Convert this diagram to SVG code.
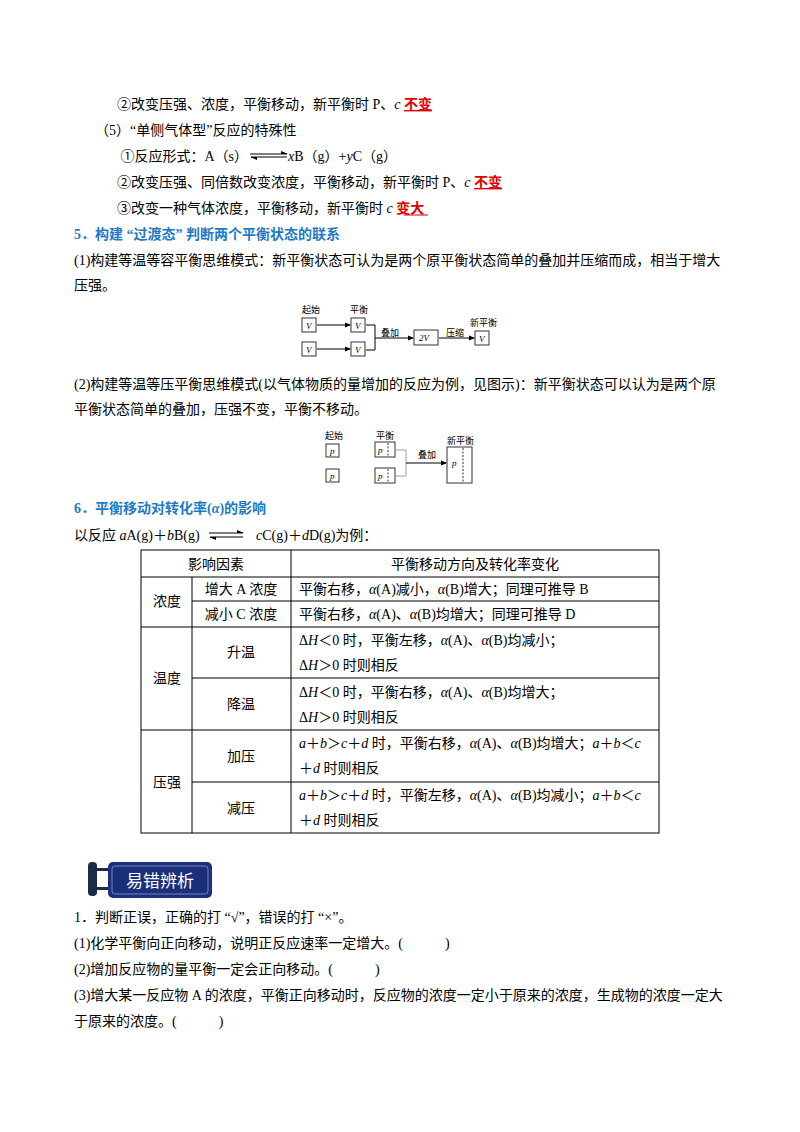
<svg xmlns="http://www.w3.org/2000/svg" width="800" height="1132" viewBox="0 0 800 1132">
<defs>
<marker id="ah" markerWidth="6" markerHeight="6" refX="5" refY="3" orient="auto"><path d="M0,0.5 L6,3 L0,5.5 Z" fill="#000"/></marker>
<marker id="hp" markerWidth="7" markerHeight="6" refX="6" refY="5" orient="auto"><path d="M0,2 L7,5 L0,5 Z" fill="#000"/></marker>
</defs>
<style>
text{font-family:"Liberation Serif","Noto Sans CJK SC",serif;font-size:14px;fill:#000}
.b{fill:#1F7AC4;font-weight:bold;font-family:"Liberation Serif","Noto Sans CJK SC",sans-serif}
.r{fill:#E00000;font-weight:bold;text-decoration:underline}
.s{font-size:9px}
.i{font-style:italic}
.bx{fill:#fff;stroke:#333;stroke-width:1}
.ln{stroke:#000;stroke-width:1;fill:none}
.tl{stroke:#000;stroke-width:1}
.gl{stroke:#888;stroke-width:0.8;fill:none}
</style>
<rect width="800" height="1132" fill="#fff"/>
<text x="117" y="109">②改变压强、浓度，平衡移动，新平衡时 P、<tspan class="i">c</tspan> <tspan class="r">不变</tspan></text>
<text x="95" y="135">（5）“单侧气体型”反应的特殊性</text>
<text x="248" y="161" text-anchor="end">①反应形式：A（s）</text>
<text x="288" y="161"><tspan class="i">x</tspan>B（g）+<tspan class="i">y</tspan>C（g）</text>
<g class="ln"><line x1="250" y1="154" x2="287" y2="154" marker-end="url(#hp)"/><line x1="287" y1="157" x2="251" y2="157" marker-end="url(#hp)"/></g>
<text x="117" y="187">②改变压强、同倍数改变浓度，平衡移动，新平衡时 P、<tspan class="i">c</tspan> <tspan class="r">不变</tspan></text>
<text x="117" y="213">③改变一种气体浓度，平衡移动，新平衡时 <tspan class="i">c</tspan> <tspan class="r" style="text-decoration:none">变大</tspan></text>
<line x1="404" y1="215" x2="428" y2="215" stroke="#E00000"/>
<text x="74" y="239" class="b">5．构建 “过渡态” 判断两个平衡状态的联系</text>
<text x="74" y="265">(1)构建等温等容平衡思维模式：新平衡状态可认为是两个原平衡状态简单的叠加并压缩而成，相当于增大</text>
<text x="74" y="290">压强。</text>
<g id="diag1">
<text x="302" y="313" class="s">起始</text><text x="350" y="313" class="s">平衡</text><text x="470" y="326" class="s">新平衡</text>
<text x="381" y="336" class="s">叠加</text><text x="446" y="336" class="s">压缩</text>
<rect class="bx" x="302" y="318" width="14" height="14"/><text x="306" y="329" class="s i">V</text>
<rect class="bx" x="302" y="342" width="14" height="14"/><text x="306" y="353" class="s i">V</text>
<rect class="bx" x="351" y="318" width="14" height="14"/><text x="355" y="329" class="s i">V</text>
<rect class="bx" x="351" y="342" width="14" height="14"/><text x="355" y="353" class="s i">V</text>
<rect class="bx" x="414" y="330" width="24" height="15"/><text x="419" y="341" class="s i">2V</text>
<rect class="bx" x="475" y="331" width="14" height="14"/><text x="479" y="342" class="s i">V</text>
</g>
<g id="conn1" class="ln">
<line x1="317" y1="325" x2="350" y2="325" marker-end="url(#ah)"/>
<line x1="317" y1="349" x2="350" y2="349" marker-end="url(#ah)"/>
<polyline points="366,325 375,325 375,350 366,350"/>
<line x1="375" y1="338" x2="413" y2="338" marker-end="url(#ah)"/>
<line x1="439" y1="338" x2="474" y2="338" marker-end="url(#ah)"/>
</g>
<text x="74" y="389">(2)构建等温等压平衡思维模式(以气体物质的量增加的反应为例，见图示)：新平衡状态可以认为是两个原</text>
<text x="74" y="414">平衡状态简单的叠加，压强不变，平衡不移动。</text>
<g id="diag2">
<text x="325" y="439" class="s">起始</text><text x="376" y="439" class="s">平衡</text><text x="447" y="444" class="s">新平衡</text>
<text x="418" y="458" class="s">叠加</text>
<rect class="bx" x="326" y="444" width="13" height="13"/><text x="330" y="454" class="s i">p</text>
<rect class="bx" x="326" y="469" width="13" height="13"/><text x="330" y="479" class="s i">p</text>
<rect class="bx" x="375" y="442" width="20" height="15"/><text x="378" y="453" class="s i">p</text>
<rect class="bx" x="375" y="468" width="20" height="15"/><text x="378" y="479" class="s i">p</text>
<line x1="388" y1="443" x2="388" y2="456" stroke="#333" stroke-dasharray="2,1.5"/>
<line x1="388" y1="469" x2="388" y2="482" stroke="#333" stroke-dasharray="2,1.5"/>
<rect class="bx" x="447" y="447" width="25" height="36"/><text x="452" y="466" class="s i">p</text>
<line x1="463" y1="448" x2="463" y2="482" stroke="#333" stroke-dasharray="2,1.5"/>
</g>
<g id="conn2">
<polyline class="gl" points="396,450 406,450 406,476 396,476"/>
<line class="ln" x1="406" y1="463" x2="446" y2="463" marker-end="url(#ah)"/>
</g>
<text x="74" y="513" class="b">6．平衡移动对转化率(<tspan class="i">α</tspan>)的影响</text>
<text x="74" y="540">以反应 <tspan class="i">a</tspan>A(g)＋<tspan class="i">b</tspan>B(g)</text>
<text x="256" y="540"><tspan class="i">c</tspan>C(g)＋<tspan class="i">d</tspan>D(g)为例：</text>
<g class="ln"><line x1="209" y1="533" x2="243" y2="533" marker-end="url(#hp)"/><line x1="243" y1="537" x2="210" y2="537" marker-end="url(#hp)"/></g>
<g id="table">
<rect x="141" y="550" width="518" height="283" fill="none" stroke="#000"/>
<g class="tl">
<line x1="141" y1="577" x2="659" y2="577"/>
<line x1="192" y1="601" x2="659" y2="601"/>
<line x1="141" y1="627" x2="659" y2="627"/>
<line x1="192" y1="678" x2="659" y2="678"/>
<line x1="141" y1="730" x2="659" y2="730"/>
<line x1="192" y1="782" x2="659" y2="782"/>
<line x1="192" y1="577" x2="192" y2="833"/>
<line x1="291" y1="550" x2="291" y2="833"/>
</g>
<text x="216" y="569" text-anchor="middle">影响因素</text>
<text x="475" y="569" text-anchor="middle">平衡移动方向及转化率变化</text>
<text x="167" y="606" text-anchor="middle">浓度</text>
<text x="241" y="594" text-anchor="middle">增大 A 浓度</text>
<text x="241" y="619" text-anchor="middle">减小 C 浓度</text>
<text x="299" y="594">平衡右移，<tspan class="i">α</tspan>(A)减小，<tspan class="i">α</tspan>(B)增大；同理可推导 B</text>
<text x="299" y="619">平衡右移，<tspan class="i">α</tspan>(A)、<tspan class="i">α</tspan>(B)均增大；同理可推导 D</text>
<text x="167" y="683" text-anchor="middle">温度</text>
<text x="241" y="657" text-anchor="middle">升温</text>
<text x="241" y="709" text-anchor="middle">降温</text>
<text x="299" y="645">Δ<tspan class="i">H</tspan>＜0 时，平衡左移，<tspan class="i">α</tspan>(A)、<tspan class="i">α</tspan>(B)均减小；</text>
<text x="299" y="670">Δ<tspan class="i">H</tspan>＞0 时则相反</text>
<text x="299" y="697">Δ<tspan class="i">H</tspan>＜0 时，平衡右移，<tspan class="i">α</tspan>(A)、<tspan class="i">α</tspan>(B)均增大；</text>
<text x="299" y="722">Δ<tspan class="i">H</tspan>＞0 时则相反</text>
<text x="167" y="787" text-anchor="middle">压强</text>
<text x="241" y="761" text-anchor="middle">加压</text>
<text x="241" y="813" text-anchor="middle">减压</text>
<text x="299" y="748"><tspan class="i">a</tspan>＋<tspan class="i">b</tspan>＞<tspan class="i">c</tspan>＋<tspan class="i">d</tspan> 时，平衡右移，<tspan class="i">α</tspan>(A)、<tspan class="i">α</tspan>(B)均增大；<tspan class="i">a</tspan>＋<tspan class="i">b</tspan>＜<tspan class="i">c</tspan></text>
<text x="299" y="773">＋<tspan class="i">d</tspan> 时则相反</text>
<text x="299" y="800"><tspan class="i">a</tspan>＋<tspan class="i">b</tspan>＞<tspan class="i">c</tspan>＋<tspan class="i">d</tspan> 时，平衡左移，<tspan class="i">α</tspan>(A)、<tspan class="i">α</tspan>(B)均减小；<tspan class="i">a</tspan>＋<tspan class="i">b</tspan>＜<tspan class="i">c</tspan></text>
<text x="299" y="825">＋<tspan class="i">d</tspan> 时则相反</text>
</g>
<g id="banner">
<rect x="88" y="862" width="9" height="34" rx="4" fill="#1E2A4A"/>
<rect x="96" y="868" width="12" height="3" fill="#1E2A4A"/>
<rect x="96" y="887" width="12" height="3" fill="#1E2A4A"/>
<rect x="108" y="862" width="104" height="36" rx="5" fill="#1B2F7A"/>
<rect x="112" y="866" width="96" height="28" rx="3" fill="none" stroke="#8A9AD0" stroke-width="0.8"/>
<text x="160" y="887" text-anchor="middle" style="fill:#fff;font-size:17px;font-family:'Noto Sans CJK SC',sans-serif">易错辨析</text>
</g>
<text x="74" y="922">1．判断正误，正确的打 “√”，错误的打 “×”。</text>
<text x="74" y="948">(1)化学平衡向正向移动，说明正反应速率一定增大。(　　　)</text>
<text x="74" y="974">(2)增加反应物的量平衡一定会正向移动。(　　　)</text>
<text x="74" y="1000">(3)增大某一反应物 A 的浓度，平衡正向移动时，反应物的浓度一定小于原来的浓度，生成物的浓度一定大</text>
<text x="74" y="1026">于原来的浓度。(　　　)</text>
</svg>
